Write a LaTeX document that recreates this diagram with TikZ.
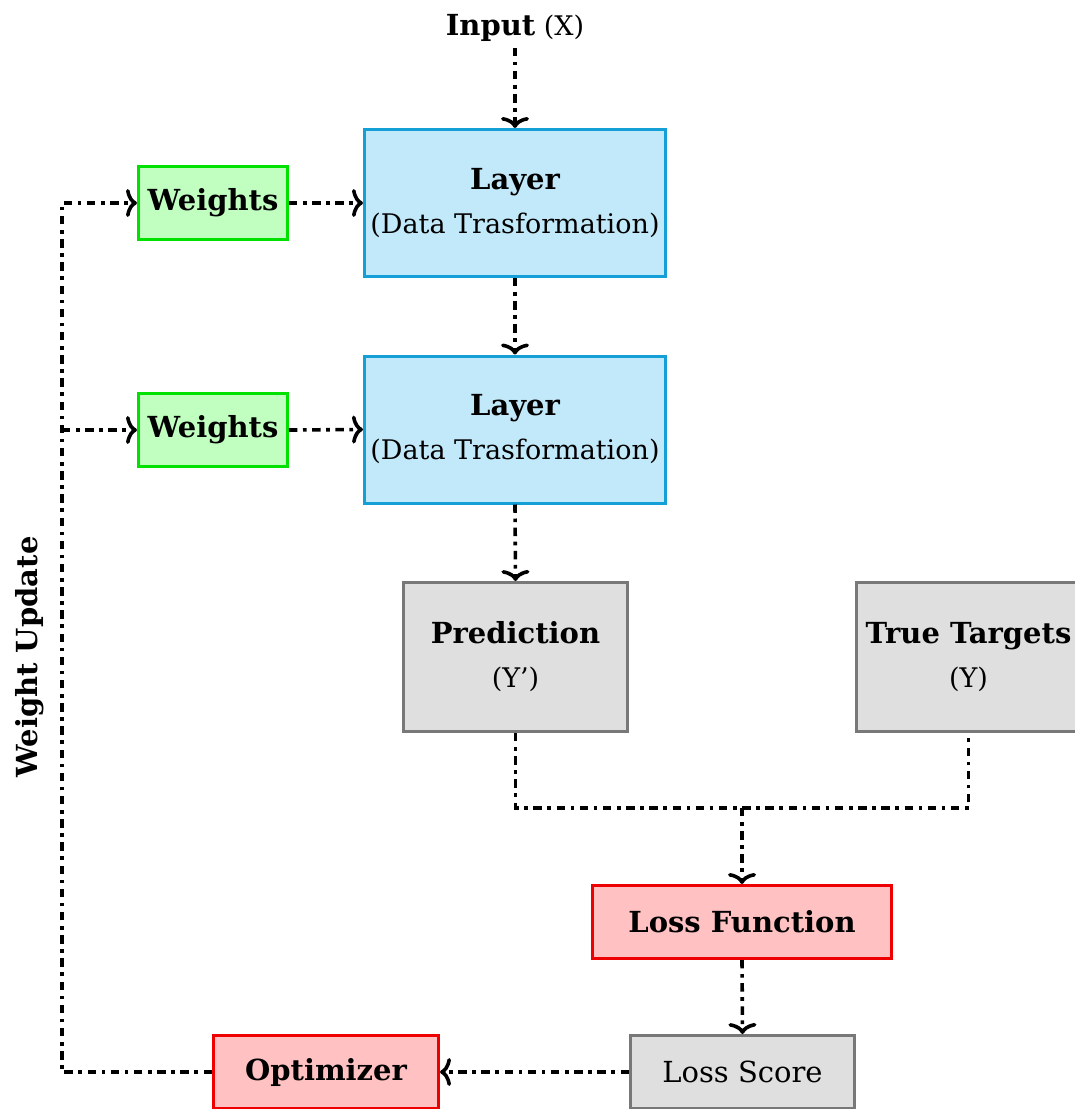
\documentclass[tikz,border=0pt]{standalone}
\usepackage{fontspec}
\setmainfont{DejaVu Serif}
\usetikzlibrary{arrows.meta}

\definecolor{layerline}{RGB}{20,160,215}
\definecolor{layerfill}{RGB}{194,233,250}
\definecolor{weightline}{RGB}{0,225,0}
\definecolor{weightfill}{RGB}{193,255,193}
\definecolor{lossline}{RGB}{238,0,0}
\definecolor{lossfill}{RGB}{255,193,193}
\definecolor{dataline}{RGB}{120,120,120}
\definecolor{datafill}{RGB}{223,223,223}

% bold headings are set slightly larger than the plain notes
\newcommand{\boxtitle}[1]{{\fontsize{29}{44}\selectfont\bfseries #1}}

\tikzset{
  txt/.style={font=\fontsize{27}{44}\selectfont, align=center, inner sep=0pt},
  box/.style={txt, draw, line width=3pt},
  layerbox/.style={box, draw=layerline, fill=layerfill, minimum width=301pt, minimum height=147pt},
  weightbox/.style={box, draw=weightline, fill=weightfill, minimum width=149pt, minimum height=73pt},
  databox/.style={box, draw=dataline, fill=datafill, minimum width=224pt, minimum height=149pt},
  lossbox/.style={box, draw=lossline, fill=lossfill, minimum width=299pt, minimum height=73pt},
  optbox/.style={box, draw=lossline, fill=lossfill, minimum width=225pt, minimum height=73pt},
  scorebox/.style={box, draw=dataline, fill=datafill, minimum width=224pt, minimum height=73pt},
  link/.style={line width=3.6pt, dash pattern=on 8.4pt off 5.6pt on 3.6pt off 5.6pt},
  flow/.style={link, -{Computer Modern Rightarrow[length=11pt,width=28pt]}}
}

\begin{document}
\begin{tikzpicture}[x=1pt,y=-1pt]
\useasboundingbox (0,0) rectangle (1075,1109);

% input label
\node[txt] (input) at (515,28) {\boxtitle{Input} (X)};

% layers and their weights
\node[layerbox] (layer1) at (515,203) {\boxtitle{Layer}\\(Data Trasformation)};
\node[layerbox] (layer2) at (515,429.5) {\boxtitle{Layer}\\(Data Trasformation)};
\node[weightbox] (w1) at (213,203) {\boxtitle{Weights}};
\node[weightbox] (w2) at (213,430) {\boxtitle{Weights}};

% outputs and targets
\node[databox] (pred) at (515.5,657) {\boxtitle{Prediction}\\(Y')};
\node[databox] (targets) at (968.5,657) {\boxtitle{True Targets}\\(Y)};

% loss and optimizer
\node[lossbox] (lossfn) at (742,922) {\boxtitle{Loss Function}};
\node[scorebox] (score) at (742.5,1072) {\fontsize{29}{44}\selectfont Loss Score};
\node[optbox] (opt) at (326,1072) {\boxtitle{Optimizer}};

% feedback label
\node[txt, rotate=90] (upd) at (30,657) {\boxtitle{Weight Update}};

% helper points
\coordinate (merge) at (742,808);
\coordinate (corner) at (62,1072);
\coordinate (tap) at (62,430);

% forward pass
\draw[flow] (input.south) ++(0,6) -- (layer1.north);
\draw[flow] (layer1.south) -- (layer2.north);
\draw[flow] (layer2.south) -- (pred.north);
\draw[flow] (w1.east) -- (layer1.west);
\draw[flow] (w2.east) -- (layer2.west);

% loss computation
\draw[link] (pred.south) |- (merge) -| (targets.south);
\draw[flow] (merge) -- (lossfn.north);
\draw[flow] (lossfn.south) -- (score.north);
\draw[flow] (score.west) -- (opt.east);

% weight update loop
\draw[flow] (opt.west) -- (corner) |- (w1.west);
\draw[flow] (tap) -- (w2.west);
\end{tikzpicture}
\end{document}
